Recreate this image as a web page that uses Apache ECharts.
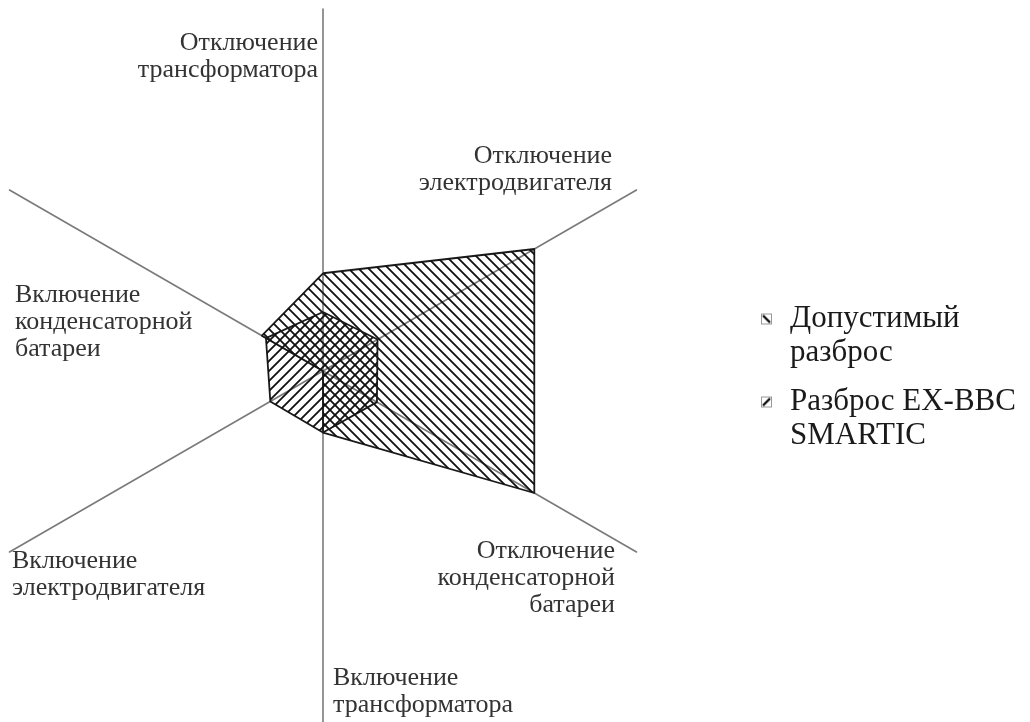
<!DOCTYPE html>
<html>
<head>
<meta charset="utf-8">
<script src="https://cdn.jsdelivr.net/npm/echarts@6/dist/echarts.min.js"></script>
<style>
	html,body{margin:0;padding:0;background:#fff;}
	#chart{width:1030px;height:722px;}
</style>
</head>
<body>
<div id="chart"></div>
<script>
// оси радара: сверху и далее против часовой стрелки
var axisNames = ['Отключение трансформатора', 'Включение конденсаторной батареи', 'Включение электродвигателя',
	'Включение трансформатора', 'Отключение конденсаторной батареи', 'Отключение электродвигателя'];
var axisMax = 100;
var seriesNames = ['Допустимый разброс', 'Разброс EX-BBC SMARTIC'];
var allowedVals = [27, 19.5, 0, 17, 67.4, 67.4];
var smarticVals = [16.3, 18.2, 16.8, 17, 17.2, 17.4];

// штриховка: '\' или '/'
function makeHatch(dir, p) {
	var c = document.createElement('canvas');
	c.width = p;
	c.height = p;
	var ctx = c.getContext('2d');
	ctx.strokeStyle = '#111';
	ctx.lineWidth = 1.8;
	ctx.beginPath();
	for (var k = -1; k <= 1; k++) {
		if (dir == '\\') {
			ctx.moveTo(k * p - 1, -1);
			ctx.lineTo(k * p + p + 1, p + 1);
		} else {
			ctx.moveTo(k * p - 1, p + 1);
			ctx.lineTo(k * p + p + 1, -1);
		}
	}
	ctx.stroke();
	return c;
}

// значок легенды
function makeIcon(dir) {
	var s = 13;
	var c = document.createElement('canvas');
	c.width = s;
	c.height = s;
	var ctx = c.getContext('2d');
	ctx.fillStyle = '#fff';
	ctx.fillRect(0, 0, s, s);
	ctx.strokeStyle = '#999';
	ctx.lineWidth = 1;
	ctx.strokeRect(1.5, 1.5, s - 3, s - 3);
	ctx.strokeStyle = '#111';
	ctx.lineWidth = 2.4;
	ctx.beginPath();
	if (dir == '\\') {
		ctx.moveTo(3, 3);
		ctx.lineTo(s - 3, s - 3);
	} else {
		ctx.moveTo(3, s - 3);
		ctx.lineTo(s - 3, 3);
	}
	ctx.stroke();
	return 'image://' + c.toDataURL();
}

// подписи осей
var labelPos = [
	{x: 318, y: 30, align: 'right'},
	{x: 15, y: 282, align: 'left'},
	{x: 12, y: 548, align: 'left'},
	{x: 333, y: 665, align: 'left'},
	{x: 615, y: 538, align: 'right'},
	{x: 612, y: 143, align: 'right'}
];
var labelFont = '26px "Liberation Serif", "DejaVu Serif", serif';

var indicators = [];
var graphics = [];
for (var i = 0; i < axisNames.length; i++) {
	indicators.push({name: axisNames[i], max: axisMax});
	graphics.push({
		type: 'text',
		x: labelPos[i].x,
		y: labelPos[i].y,
		silent: true,
		style: {
			text: axisNames[i].split(' ').join('\n'),
			font: labelFont,
			lineHeight: 27,
			fill: '#333',
			align: labelPos[i].align,
			verticalAlign: 'top'
		}
	});
}

// пустая первая строка, чтобы значок стоял у первой строки текста
function legendOpt(idx, top, dir) {
	return {
		orient: 'vertical',
		left: 755,
		top: top,
		itemWidth: 13,
		itemHeight: 13,
		itemGap: 0,
		selectedMode: false,
		data: [{name: seriesNames[idx], icon: makeIcon(dir)}],
		formatter: function(name) {
			var n = name.lastIndexOf(' ');
			return ' \n' + name.substring(0, n) + '\n' + name.substring(n + 1);
		},
		textStyle: {
			fontFamily: '"Liberation Serif", "DejaVu Serif", serif',
			fontSize: 31,
			lineHeight: 34,
			color: '#1a1a1a',
			padding: [0, 0, 0, 12]
		}
	};
}

var myChart = echarts.init(document.getElementById('chart'));
var option = {
	animation: false,
	backgroundColor: '#fff',
	legend: [legendOpt(0, 263, '\\'), legendOpt(1, 346, '/')],
	radar: {
		center: [323, 371],
		radius: 362,
		startAngle: 90,
		shape: 'polygon',
		indicator: indicators,
		axisName: {show: false},
		axisLine: {lineStyle: {color: '#7a7a7a', width: 1.6}},
		splitLine: {show: false},
		splitArea: {show: false},
		axisTick: {show: false},
		axisLabel: {show: false}
	},
	series: [{
		name: seriesNames[0],
		type: 'radar',
		symbol: 'none',
		silent: true,
		data: [{
			name: seriesNames[0],
			value: allowedVals,
			lineStyle: {color: '#1a1a1a', width: 1.8},
			areaStyle: {color: {image: makeHatch('\\', 10), repeat: 'repeat'}, opacity: 1}
		}]
	}, {
		name: seriesNames[1],
		type: 'radar',
		symbol: 'none',
		silent: true,
		data: [{
			name: seriesNames[1],
			value: smarticVals,
			lineStyle: {color: '#1a1a1a', width: 1.8},
			areaStyle: {color: {image: makeHatch('/', 10), repeat: 'repeat'}, opacity: 1}
		}]
	}],
	graphic: graphics
};
myChart.setOption(option);
</script>
</body>
</html>
